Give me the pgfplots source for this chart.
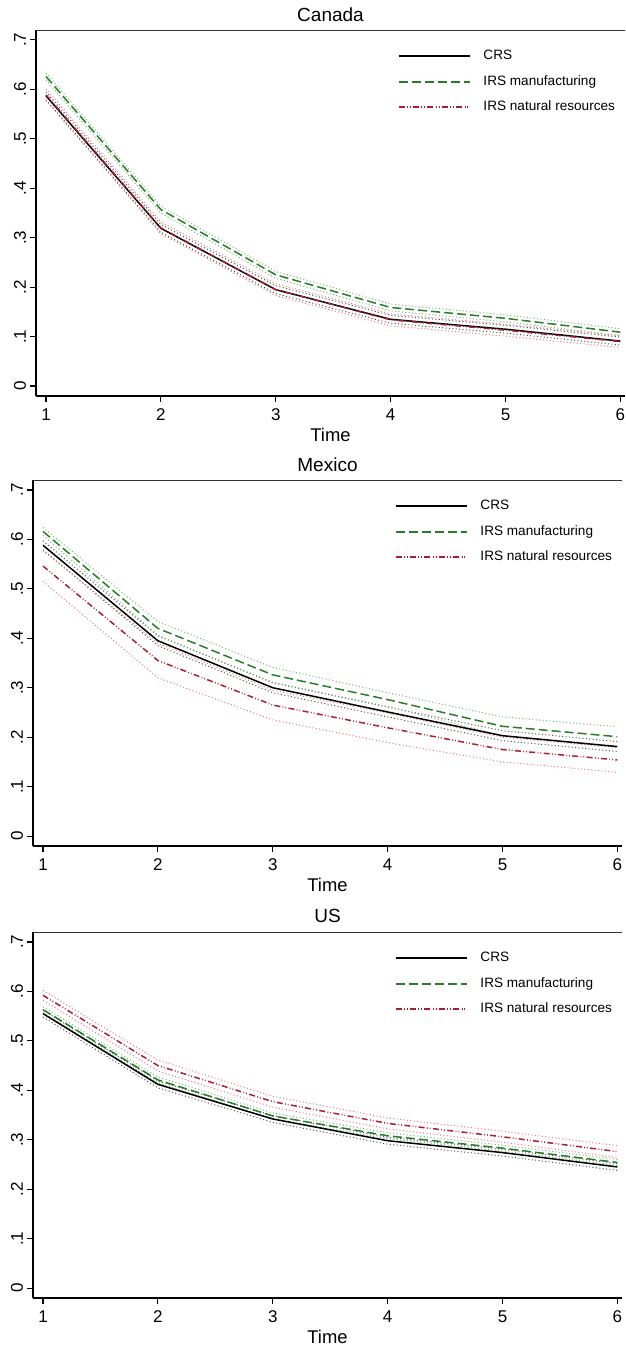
\documentclass[border=0pt]{standalone}
\usepackage{pgfplots}
\pgfplotsset{compat=1.18}
\usepackage{fontspec}
\setmainfont{Liberation Sans}
\definecolor{cgreen}{RGB}{40,125,40}
\definecolor{cred}{RGB}{170,30,50}
\definecolor{bgreen}{RGB}{120,180,120}
\definecolor{bred}{RGB}{225,120,135}
\definecolor{bblack}{RGB}{80,80,80}
\pgfplotsset{
  panel/.style={
    scale only axis, width=294.5pt, height=183pt,
    anchor=north west,
    xmin=0.913, xmax=6.04, ymin=-0.02, ymax=0.72,
    axis x line*=bottom, axis y line*=left,
    axis line style={line width=0.9pt, black},
    xtick={1,2,3,4,5,6}, xticklabels={1,2,3,4,5,6},
    ytick={0,0.1,0.2,0.3,0.4,0.5,0.6,0.7},
    yticklabels={0,.1,.2,.3,.4,.5,.6,.7},
    tick align=outside, major tick length=3pt,
    tick style={line width=0.6pt, black},
    ticklabel style={font=\fontsize{8.5}{10}\selectfont},
    yticklabel style={rotate=90, anchor=south, yshift=-1.5pt},
    xlabel={Time},
    xlabel style={at={(0.5,0)}, anchor=center, yshift=-19.5pt, font=\fontsize{9.2}{11}\selectfont},
    title style={at={(0.5,1)}, anchor=center, yshift=1.8pt, font=\fontsize{9.5}{11}\selectfont},
    legend style={draw=none, fill=none, at={(0.603,0.958)}, anchor=north west,
      font=\fontsize{6.8}{8}\selectfont, row sep=6.3pt, column sep=6.5pt,
      nodes={inner sep=0pt, text height=5pt, text depth=1.4pt}},
    legend cell align=left,
    legend image code/.code={\draw[##1] (0pt,0pt) -- (35.5pt,0pt);},
    clip=false,
  },
  crsline/.style={black, line width=0.75pt},
  mfgline/.style={color=cgreen, line width=0.75pt, dash pattern=on 4.5pt off 2pt},
  natline/.style={color=cred, line width=0.75pt, dash pattern=on 3pt off 1.2pt on 0.4pt off 1pt on 0.4pt off 1.2pt},
  bcrs/.style={bblack, line width=0.5pt, dash pattern=on 0.5pt off 1.2pt},
  bman/.style={bgreen, line width=0.5pt, dash pattern=on 0.5pt off 1.2pt},
  bnat/.style={bred, line width=0.5pt, dash pattern=on 0.5pt off 1.2pt},
  legcrs/.style={black, line width=0.8pt},
  legmfg/.style={color=cgreen, line width=0.95pt, dash pattern=on 4.5pt off 2pt},
  legnat/.style={color=cred, line width=0.9pt, dash pattern=on 3pt off 1.2pt on 0.4pt off 1pt on 0.4pt off 1.2pt},
}
\begin{document}
\begin{tikzpicture}
\useasboundingbox (0,0) rectangle (313pt,-675pt);
% ---------------- Canada
\begin{axis}[panel, at={(18pt,-15pt)}, title={Canada}]
\addlegendimage{legcrs}
\addlegendimage{legmfg}
\addlegendimage{legnat}
\addplot[bcrs, forget plot] coordinates {(1,.595)(2,.327)(3,.203)(4,.143)(5,.123)(6,.099)};
\addplot[bcrs, forget plot] coordinates {(1,.579)(2,.311)(3,.187)(4,.127)(5,.107)(6,.083)};
\addplot[bman, forget plot] coordinates {(1,.633)(2,.364)(3,.232)(4,.166)(5,.144)(6,.116)};
\addplot[bman, forget plot] coordinates {(1,.619)(2,.350)(3,.218)(4,.152)(5,.130)(6,.102)};
\addplot[bnat, forget plot] coordinates {(1,.601)(2,.332)(3,.207)(4,.146)(5,.125)(6,.102)};
\addplot[bnat, forget plot] coordinates {(1,.577)(2,.308)(3,.183)(4,.122)(5,.101)(6,.078)};
\addplot[crsline, forget plot] coordinates {(1,.587)(2,.319)(3,.195)(4,.135)(5,.115)(6,.091)};
\addplot[mfgline, forget plot] coordinates {(1,.626)(2,.357)(3,.225)(4,.159)(5,.137)(6,.109)};
\addplot[natline, forget plot] coordinates {(1,.589)(2,.320)(3,.195)(4,.134)(5,.113)(6,.090)};
\legend{CRS, IRS manufacturing, IRS natural resources}
\draw[line width=0.5pt, black!80] (rel axis cs:0,1) -- (rel axis cs:1,1);
\end{axis}
% ---------------- Mexico
\begin{axis}[panel, at={(16.5pt,-240pt)}, title={Mexico}]
\addlegendimage{legcrs}
\addlegendimage{legmfg}
\addlegendimage{legnat}
\addplot[bcrs, forget plot] coordinates {(1,.597)(2,.405)(3,.310)(4,.261)(5,.213)(6,.191)};
\addplot[bcrs, forget plot] coordinates {(1,.579)(2,.385)(3,.290)(4,.241)(5,.193)(6,.171)};
\addplot[bman, forget plot] coordinates {(1,.624)(2,.434)(3,.341)(4,.290)(5,.241)(6,.221)};
\addplot[bman, forget plot] coordinates {(1,.608)(2,.406)(3,.311)(4,.262)(5,.203)(6,.181)};
\addplot[bnat, forget plot] coordinates {(1,.577)(2,.390)(3,.295)(4,.249)(5,.200)(6,.179)};
\addplot[bnat, forget plot] coordinates {(1,.515)(2,.320)(3,.235)(4,.189)(5,.150)(6,.129)};
\addplot[crsline, forget plot] coordinates {(1,.588)(2,.395)(3,.300)(4,.251)(5,.203)(6,.181)};
\addplot[mfgline, forget plot] coordinates {(1,.616)(2,.420)(3,.326)(4,.276)(5,.222)(6,.201)};
\addplot[natline, forget plot] coordinates {(1,.546)(2,.355)(3,.265)(4,.219)(5,.175)(6,.154)};
\legend{CRS, IRS manufacturing, IRS natural resources}
\draw[line width=0.5pt, black!80] (rel axis cs:0,1) -- (rel axis cs:1,1);
\end{axis}
% ---------------- US
\begin{axis}[panel, at={(16.5pt,-466pt)}, title={US}]
\addlegendimage{legcrs}
\addlegendimage{legmfg}
\addlegendimage{legnat}
\addplot[bcrs, forget plot] coordinates {(1,.562)(2,.419)(3,.349)(4,.305)(5,.281)(6,.252)};
\addplot[bcrs, forget plot] coordinates {(1,.548)(2,.405)(3,.335)(4,.291)(5,.267)(6,.238)};
\addplot[bman, forget plot] coordinates {(1,.569)(2,.427)(3,.354)(4,.314)(5,.289)(6,.260)};
\addplot[bman, forget plot] coordinates {(1,.557)(2,.415)(3,.342)(4,.302)(5,.277)(6,.248)};
\addplot[bnat, forget plot] coordinates {(1,.602)(2,.461)(3,.388)(4,.344)(5,.317)(6,.288)};
\addplot[bnat, forget plot] coordinates {(1,.582)(2,.439)(3,.366)(4,.322)(5,.295)(6,.264)};
\addplot[crsline, forget plot] coordinates {(1,.555)(2,.412)(3,.342)(4,.298)(5,.274)(6,.245)};
\addplot[mfgline, forget plot] coordinates {(1,.563)(2,.421)(3,.348)(4,.308)(5,.283)(6,.254)};
\addplot[natline, forget plot] coordinates {(1,.592)(2,.450)(3,.377)(4,.333)(5,.306)(6,.276)};
\legend{CRS, IRS manufacturing, IRS natural resources}
\draw[line width=0.5pt, black!80] (rel axis cs:0,1) -- (rel axis cs:1,1);
\end{axis}
\end{tikzpicture}
\end{document}
